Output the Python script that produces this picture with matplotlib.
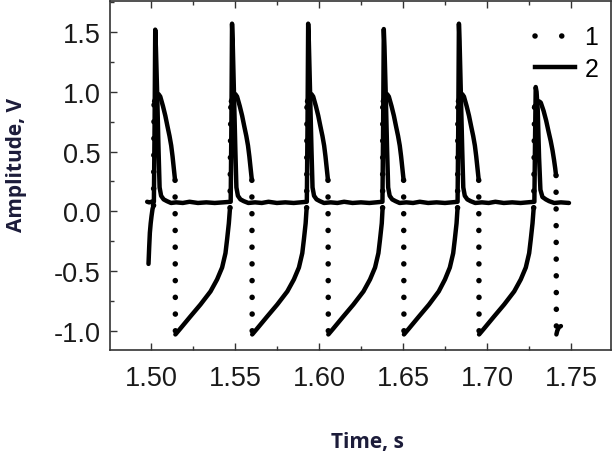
import matplotlib
matplotlib.use('Agg')
import matplotlib.pyplot as plt
import numpy as np
from matplotlib.lines import Line2D
from matplotlib.ticker import MultipleLocator

# ---- data ----
# series 1 (dotted legend entry): time (s) and amplitude (V)
s1_t = [1.4986, 1.4990, 1.4994, 1.4999, 1.5004, 1.5010, 1.5016,
        1.5019,
        1.5036, 1.5046, 1.5056, 1.5072, 1.5086, 1.5099, 1.5111, 1.5121, 1.5129, 1.5135, 1.5141, 1.5144,
        1.5146,
        1.5176, 1.5235, 1.5295, 1.5355, 1.5394, 1.5424, 1.5444, 1.5454, 1.5464, 1.5471,
        1.5476,
        1.5493, 1.5503, 1.5513, 1.5529, 1.5543, 1.5556, 1.5568, 1.5578, 1.5586, 1.5592, 1.5598, 1.5601,
        1.5603,
        1.5633, 1.5692, 1.5752, 1.5812, 1.5851, 1.5881, 1.5901, 1.5911, 1.5921, 1.5927,
        1.5929,
        1.5946, 1.5956, 1.5966, 1.5982, 1.5996, 1.6009, 1.6021, 1.6031, 1.6039, 1.6045, 1.6051, 1.6054,
        1.6056,
        1.6086, 1.6145, 1.6205, 1.6265, 1.6304, 1.6334, 1.6354, 1.6364, 1.6374, 1.6379,
        1.6380,
        1.6396, 1.6406, 1.6416, 1.6432, 1.6446, 1.6459, 1.6471, 1.6481, 1.6489, 1.6495, 1.6501, 1.6504,
        1.6506,
        1.6536, 1.6595, 1.6655, 1.6713, 1.6750, 1.6779, 1.6799, 1.6809, 1.6819, 1.6825,
        1.6827,
        1.6843, 1.6853, 1.6863, 1.6879, 1.6893, 1.6906, 1.6918, 1.6928, 1.6936, 1.6942, 1.6948, 1.6951,
        1.6953,
        1.6983, 1.7042, 1.7102, 1.7162, 1.7201, 1.7231, 1.7251, 1.7261, 1.7271, 1.7278,
        1.7283,
        1.7300, 1.7310, 1.7320, 1.7337, 1.7352, 1.7366, 1.7379, 1.7390, 1.7399, 1.7406, 1.7411,
        1.7413,
        1.7418, 1.7428, 1.7440]
s1_v = [-0.44, -0.30, -0.18, -0.10, -0.04, 0.02, 0.05,
        0.92,
        0.97, 0.98, 0.96, 0.88, 0.80, 0.71, 0.63, 0.55, 0.46, 0.38, 0.30, 0.26,
        -1.03,
        -0.98, -0.88, -0.78, -0.67, -0.57, -0.47, -0.35, -0.23, -0.10, 0.03,
        0.92,
        0.97, 0.98, 0.96, 0.88, 0.80, 0.71, 0.63, 0.55, 0.46, 0.38, 0.30, 0.26,
        -1.03,
        -0.98, -0.88, -0.78, -0.67, -0.57, -0.47, -0.35, -0.23, -0.10, 0.03,
        0.92,
        0.97, 0.98, 0.96, 0.88, 0.80, 0.71, 0.63, 0.55, 0.46, 0.38, 0.30, 0.26,
        -1.03,
        -0.98, -0.88, -0.78, -0.67, -0.57, -0.47, -0.35, -0.23, -0.10, 0.03,
        0.92,
        0.97, 0.98, 0.96, 0.88, 0.80, 0.71, 0.63, 0.55, 0.46, 0.38, 0.30, 0.26,
        -1.03,
        -0.98, -0.88, -0.78, -0.67, -0.57, -0.47, -0.35, -0.23, -0.10, 0.03,
        0.92,
        0.97, 0.98, 0.96, 0.88, 0.80, 0.71, 0.63, 0.55, 0.46, 0.38, 0.30, 0.26,
        -1.03,
        -0.98, -0.88, -0.78, -0.67, -0.57, -0.47, -0.35, -0.23, -0.10, 0.03,
        0.88,
        0.90, 0.92, 0.91, 0.84, 0.76, 0.67, 0.59, 0.51, 0.43, 0.36, 0.30,
        -1.03,
        -1.00, -0.97, -0.96]

# series 2 (solid legend entry)
s2_t = [1.4978, 1.4990, 1.5005, 1.5018, 1.5022, 1.5026, 1.5030, 1.5038, 1.5046, 1.5052, 1.5061, 1.5076, 1.5096,
        1.5120, 1.5150, 1.5190, 1.5230, 1.5280, 1.5330, 1.5380, 1.5430, 1.5475,
        1.5479, 1.5483, 1.5487, 1.5495, 1.5503, 1.5509, 1.5518, 1.5533, 1.5553,
        1.5580, 1.5620, 1.5660, 1.5700, 1.5750, 1.5800, 1.5850, 1.5890, 1.5928,
        1.5932, 1.5936, 1.5940, 1.5948, 1.5956, 1.5962, 1.5971, 1.5986, 1.6006,
        1.6030, 1.6070, 1.6110, 1.6150, 1.6200, 1.6250, 1.6300, 1.6340, 1.6378,
        1.6382, 1.6386, 1.6390, 1.6398, 1.6406, 1.6412, 1.6421, 1.6436, 1.6456,
        1.6480, 1.6520, 1.6560, 1.6600, 1.6650, 1.6700, 1.6750, 1.6790, 1.6825,
        1.6829, 1.6833, 1.6837, 1.6845, 1.6853, 1.6859, 1.6868, 1.6883, 1.6903,
        1.6930, 1.6970, 1.7010, 1.7050, 1.7100, 1.7150, 1.7200, 1.7240, 1.7282,
        1.7286, 1.7290, 1.7295, 1.7302, 1.7310, 1.7318, 1.7330, 1.7350, 1.7370, 1.7400, 1.7440, 1.7488]
s2_v = [0.08, 0.075, 0.08, 0.08, 0.70, 1.52, 1.37, 0.96, 0.50, 0.20, 0.13, 0.10, 0.085,
        0.07, 0.075, 0.07, 0.08, 0.07, 0.075, 0.07, 0.075, 0.08,
        0.70, 1.57, 1.42, 0.96, 0.50, 0.20, 0.13, 0.10, 0.085,
        0.07, 0.075, 0.07, 0.08, 0.07, 0.075, 0.07, 0.075, 0.08,
        0.70, 1.57, 1.42, 0.96, 0.50, 0.20, 0.13, 0.10, 0.085,
        0.07, 0.075, 0.07, 0.08, 0.07, 0.075, 0.07, 0.075, 0.08,
        0.70, 1.525, 1.38, 0.96, 0.50, 0.20, 0.13, 0.10, 0.085,
        0.07, 0.075, 0.07, 0.08, 0.07, 0.075, 0.07, 0.075, 0.08,
        0.70, 1.57, 1.42, 0.96, 0.50, 0.20, 0.13, 0.10, 0.085,
        0.07, 0.075, 0.07, 0.08, 0.07, 0.075, 0.07, 0.075, 0.08,
        0.60, 1.04, 1.00, 0.85, 0.45, 0.18, 0.12, 0.10, 0.085, 0.07, 0.075, 0.07]

x_ticks = [1.50, 1.55, 1.60, 1.65, 1.70, 1.75]
x_tick_labels = ['1.50', '1.55', '1.60', '1.65', '1.70', '1.75']
y_ticks = [-1.0, -0.5, 0.0, 0.5, 1.0, 1.5]
y_tick_labels = ['-1.0', '-0.5', '0.0', '0.5', '1.0', '1.5']
legend_labels = ['1', '2']
x_label = 'Time, s'
y_label = 'Amplitude, V'

# ---- figure ----
fig = plt.figure(figsize=(6.15, 4.56), dpi=100)
ax = fig.add_axes([0.1789, 0.2303, 0.8146, 0.7654])

LW = 3.2
DLW = 4.0
DOT = (0, (0.01, 3.0))

t1 = np.array(s1_t)
v1 = np.array(s1_v)
steep = np.abs(np.diff(v1) / np.diff(t1)) > 1000

# solid runs of series 1, dotted fast transitions
run = [0]
for i in range(len(steep)):
    if steep[i]:
        if len(run) > 1:
            ax.plot(t1[run], v1[run], color='black', lw=LW, solid_capstyle='round',
                    solid_joinstyle='round')
        ax.plot(t1[i:i + 2], v1[i:i + 2], color='black', lw=DLW, linestyle=DOT,
                dash_capstyle='round')
        run = [i + 1]
    else:
        run.append(i + 1)
if len(run) > 1:
    ax.plot(t1[run], v1[run], color='black', lw=LW, solid_capstyle='round',
            solid_joinstyle='round')

ax.plot(s2_t, s2_v, color='black', lw=LW, solid_joinstyle='round', solid_capstyle='round')

ax.set_xlim(1.4757, 1.7738)
ax.set_ylim(-1.16, 1.76)
ax.set_xticks(x_ticks)
ax.set_xticklabels(x_tick_labels)
ax.set_yticks(y_ticks)
ax.set_yticklabels(y_tick_labels)
ax.xaxis.set_minor_locator(MultipleLocator(0.025))
ax.yaxis.set_minor_locator(MultipleLocator(0.25))
ax.tick_params(axis='both', which='both', direction='in', top=True, right=False,
               width=1.0, color='#333333')
ax.tick_params(which='major', length=5)
ax.tick_params(which='minor', length=3)
ax.tick_params(axis='x', pad=11)
ax.tick_params(axis='y', pad=7)
for lab in ax.get_xticklabels() + ax.get_yticklabels():
    lab.set_fontfamily('Liberation Sans')
    lab.set_fontsize(19.5)
    lab.set_color('#1a1a1a')
for sp in ax.spines.values():
    sp.set_linewidth(1.2)
    sp.set_color('#333333')

ax.set_xlabel(x_label, fontsize=15, fontweight='bold', family='Open Sans', color='#1c1c3a')
ax.set_ylabel(y_label, fontsize=15, fontweight='bold', family='Open Sans', color='#1c1c3a')
ax.xaxis.label.set_va('center')
ax.yaxis.label.set_va('center')
ax.xaxis.set_label_coords(0.513, -0.262)
ax.yaxis.set_label_coords(-0.1876, 0.533)

handles = [Line2D([0], [0], color='black', lw=DLW, linestyle=(0, (0.01, 4.8)), dash_capstyle='round'),
           Line2D([0], [0], color='black', lw=LW)]
leg = ax.legend(handles, legend_labels, loc='upper right', bbox_to_anchor=(0.975, 0.93),
                frameon=False, handlelength=1.6, handletextpad=0.4,
                labelspacing=0.3, borderpad=0, borderaxespad=0,
                prop={'family': 'Liberation Sans', 'size': 18})

fig.savefig('out.png', dpi=100)
